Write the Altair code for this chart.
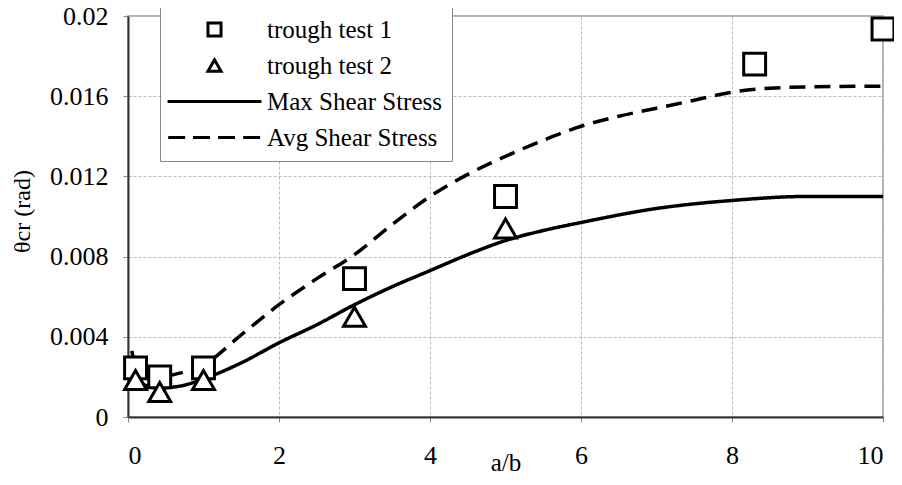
import altair as alt
import pandas as pd

# ---- data ----
series_names = ["trough test 1", "trough test 2", "Max Shear Stress", "Avg Shear Stress"]

x_test1 = [0.1, 0.42, 1.0, 3.0, 5.0, 8.3, 10.0]
y_test1 = [0.00245, 0.0020, 0.00245, 0.0069, 0.0110, 0.0176, 0.01935]

x_test2 = [0.1, 0.42, 1.0, 3.0, 5.0]
y_test2 = [0.00185, 0.00125, 0.00185, 0.0050, 0.0094]

x_max = [0.1, 0.4, 0.7, 1.0, 1.5, 2.0, 2.5, 3.0, 3.5, 4.0, 4.5, 5.0, 5.5, 6.0, 7.0, 8.0, 9.0, 10.0]
y_max = [0.0018, 0.00145, 0.00155, 0.0019, 0.0027, 0.0037, 0.0046, 0.0056, 0.0065, 0.0073,
         0.0081, 0.0088, 0.0093, 0.0097, 0.0104, 0.0108, 0.0110, 0.0110]

x_avg = [0.05, 0.1, 0.4, 0.7, 1.0, 1.5, 2.0, 2.5, 3.0, 3.5, 4.0, 4.5, 5.0, 5.5, 6.0, 6.5,
         7.0, 7.5, 8.0, 8.5, 9.0, 10.0]
y_avg = [0.0033, 0.0026, 0.0020, 0.0022, 0.0026, 0.0041, 0.0056, 0.0069, 0.0081, 0.0096,
         0.0110, 0.0121, 0.0130, 0.0138, 0.0145, 0.0150, 0.0154, 0.0158, 0.0162, 0.0164,
         0.01646, 0.0165]

x_ticks = [0, 2, 4, 6, 8, 10]
y_ticks = [0, 0.004, 0.008, 0.012, 0.016, 0.02]

pts = pd.concat([
    pd.DataFrame({"x": x_test1, "y": y_test1, "series": series_names[0]}),
    pd.DataFrame({"x": x_test2, "y": y_test2, "series": series_names[1]}),
])
lines = pd.concat([
    pd.DataFrame({"x": x_max, "y": y_max, "series": series_names[2]}),
    pd.DataFrame({"x": x_avg, "y": y_avg, "series": series_names[3]}),
])

FONT = "Liberation Serif"

# legend glyphs: plain symbols for the tests, stroke paths for the two models
solid_path = "M-7.2,0H7.2"
dashed_path = "M-7.1,0H-4.5M-3.3,0H-0.7M0.55,0H3.15M4.4,0H7.0"

xs = alt.X("x:Q", scale=alt.Scale(domain=[0, 10], nice=False),
           axis=alt.Axis(title="a/b", values=x_ticks, format="d", titleFontSize=25,
                         titleFontWeight="normal", titleY=53, titleBaseline="alphabetic"))
ys = alt.Y("y:Q", scale=alt.Scale(domain=[0, 0.02], nice=False),
           axis=alt.Axis(title="θcr (rad)", values=y_ticks, format="~g",
                         titleFontSize=24, titleFontWeight="normal",
                         titleX=-106, titleY=195, titleBaseline="middle", titleAlign="center"))

legend = alt.Legend(
    title=None, orient="none", legendX=32, legendY=-9,
    labelFont=FONT, labelFontSize=25, labelColor="black", labelLimit=400,
    symbolSize=170, symbolStrokeWidth=3, symbolOffset=32, labelOffset=40,
    rowPadding=10, strokeColor="#888", fillColor="white", padding=10,
)

line_layer = alt.Chart(lines).mark_line(color="black", strokeWidth=3.5, interpolate="monotone").encode(
    x=xs, y=ys,
    strokeDash=alt.StrokeDash("series:N",
                              scale=alt.Scale(domain=series_names[2:],
                                              range=[[1, 0], [16, 9]]),
                              legend=None),
)
pt_layer = alt.Chart(pts).mark_point(filled=True, fill="white", stroke="black",
                                      strokeWidth=3, size=480, opacity=1).encode(
    x=xs, y=ys,
    shape=alt.Shape("series:N",
                    scale=alt.Scale(domain=series_names,
                                    range=["square", "triangle-up", solid_path, dashed_path]),
                    legend=legend),
)

chart = alt.layer(line_layer, pt_layer).properties(
    width=755, height=401,
    autosize=alt.AutoSizeParams(type="none"),
    padding={"left": 120, "top": 8, "right": 11, "bottom": 60},
    background="white",
).configure_view(
    stroke="#999", strokeWidth=1.5,
).configure_axis(
    labelFont=FONT, titleFont=FONT, labelFontSize=26, labelColor="black",
    titleColor="black", domainColor="#333", domainWidth=2, tickColor="#888",
    tickSize=5, gridColor="#bbb", gridDash=[3, 2], gridWidth=1,
).configure_axisY(labelPadding=15).configure_axisX(labelPadding=20)

chart.save("out.html", embed_options={"renderer": "svg", "actions": False})
